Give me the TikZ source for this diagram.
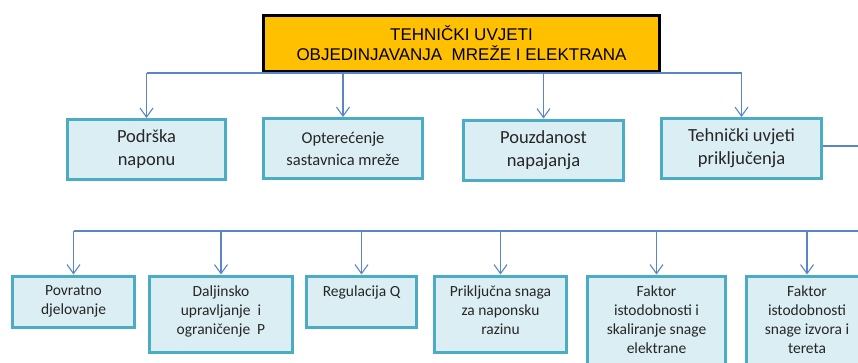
\documentclass[tikz,border=0pt]{standalone}
\usepackage{fontspec}
\setmainfont{Carlito}
\newfontfamily\headfont{Liberation Sans}
\usetikzlibrary{positioning,arrows.meta}

\definecolor{headfill}{HTML}{FFC000}
\definecolor{cellfill}{HTML}{DBEEF4}
\definecolor{cellline}{HTML}{4BACC6}
\definecolor{linkcol}{HTML}{5B86C5}
\definecolor{celltext}{HTML}{262626}

% top-aligned text inside the lower cells: width, height, text
\newcommand{\lowcell}[3]{\parbox[c][#2pt][t]{#1pt}{\centering\vspace*{10pt}#3}}

\begin{document}
\begin{tikzpicture}[x=1pt,y=-1pt,
  headbox/.style={draw=black,fill=headfill,line width=3pt,align=center,
    font=\headfont\fontsize{17}{20}\selectfont},
  midbox/.style={draw=cellline,fill=cellfill,line width=3pt,align=center,
    minimum height=60,text=celltext,font=\fontsize{18.5}{23}\selectfont},
  lowbox/.style={draw=cellline,fill=cellfill,line width=3pt,inner sep=0pt,
    anchor=north,text=celltext,font=\fontsize{15.5}{19}\selectfont},
  link/.style={draw=linkcol,line width=1.1pt},
  arr/.style={link,-{Straight Barb[length=9pt,width=13pt]}}]

  \useasboundingbox (0,0) rectangle (858,362);
  \clip (0,0) rectangle (858,362);

  \node[headbox,minimum width=396,minimum height=56] (top) at (461.5,43.5)
    {TEHNIČKI UVJETI\\OBJEDINJAVANJA~ MREŽE I ELEKTRANA};

  \node[midbox,minimum width=158] (podrska) at (146.5,149.5) {Podrška\\naponu};
  \node[midbox,minimum width=159,font=\fontsize{16.5}{22}\selectfont] (opter) at (343,148.5)
    {Opterećenje\\sastavnica mreže};
  \node[midbox,minimum width=160] (pouzd) at (543.5,150) {Pouzdanost\\napajanja};
  \node[midbox,minimum width=160] (tehn) at (741.5,148.5) {Tehnički uvjeti\\priključenja};

  \node[lowbox] (povrat) at (73.5,274.5) {\lowcell{122}{51}{Povratno\\djelovanje}};
  \node[lowbox] (daljin) at (221,274.5)
    {\lowcell{143}{76}{Daljinsko\\upravljanje\ \ i\\ograničenje\ \ P}};
  \node[lowbox] (regul) at (361.5,274.5) {\lowcell{110}{51}{Regulacija Q}};
  \node[lowbox] (priklj) at (500.5,274.5)
    {\lowcell{132}{76}{Priključna snaga\\za naponsku\\razinu}};
  \node[lowbox] (faktA) at (656.5,274.5)
    {\lowcell{138}{94}{Faktor\\istodobnosti i\\skaliranje snage\\elektrane}};
  \node[lowbox] (faktB) at (807,274.5)
    {\lowcell{121}{94}{Faktor\\istodobnosti\\snage izvora i\\tereta}};

  % connectors leaving the picture on the right
  \coordinate (rimA) at (858,146);
  \coordinate (rimB) at (858,231);

  \draw[link] (podrska.north |- top.south) -- (tehn.north |- top.south);
  \foreach \n in {podrska,opter,pouzd,tehn}
    \draw[arr] (\n.north |- top.south) -- (\n.north);

  \draw[link] (tehn.east |- rimA) -- (rimA);
  \draw[link] (povrat.north |- rimB) -- (rimB);
  \foreach \n in {povrat,daljin,regul,priklj,faktA,faktB}
    \draw[arr] (\n.north |- rimB) -- (\n.north);
\end{tikzpicture}
\end{document}
